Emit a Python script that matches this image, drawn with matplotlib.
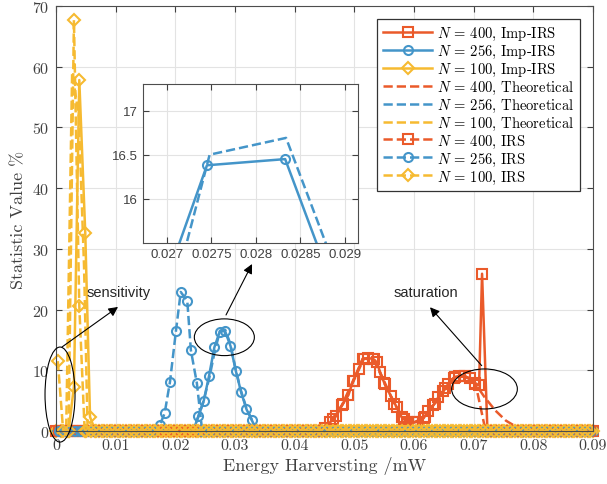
import numpy as np
import matplotlib
matplotlib.use("Agg")
import matplotlib.pyplot as plt
from matplotlib.patches import Ellipse

plt.rcParams['font.family'] = 'cmr10'
plt.rcParams['mathtext.fontset'] = 'cm'
plt.rcParams['axes.formatter.use_mathtext'] = True

# colours (MATLAB-like)
c_org = '#EA5A2A'
c_blu = '#4495C9'
c_yel = '#F6BA31'

# histogram bin centres where the curves sit at zero
bins_a = np.linspace(0, 0.09, 101)
bins_b = bins_a[:-1] + 0.00045

# ---- N = 400 ----
x400_imp = [0.0441, 0.0450, 0.0459, 0.0470, 0.0479, 0.0490, 0.0498, 0.0507, 0.0514, 0.0523,
            0.0531, 0.0538, 0.0543, 0.0551, 0.0561, 0.0571, 0.0579, 0.0588, 0.0599, 0.0607,
            0.0616, 0.0624, 0.0632, 0.0641, 0.0649, 0.0657, 0.0667, 0.0676, 0.0685, 0.0694,
            0.0702, 0.0709, 0.0714, 0.0723]
y400_imp = [0, 0.5, 1.4, 2.5, 4.2, 5.9, 8.3, 10.2, 11.9, 12.0,
            11.9, 11.3, 9.7, 7.7, 5.8, 3.9, 2.3, 1.5, 1.4, 1.5,
            2.1, 3.3, 4.2, 5.6, 6.6, 7.7, 8.8, 9.1, 9.0, 8.7,
            7.9, 7.5, 25.9, 0]
x400_th = [0.0441, 0.0459, 0.0479, 0.0498, 0.0514, 0.0531, 0.0543, 0.0561, 0.0579, 0.0599,
           0.0616, 0.0632, 0.0649, 0.0667, 0.0685, 0.0702, 0.0718, 0.0736, 0.0754, 0.0766, 0.0778]
y400_th = [0, 1.4, 4.2, 8.3, 11.9, 11.9, 9.7, 5.8, 2.3, 1.4,
           2.1, 4.2, 6.6, 8.8, 9.0, 7.9, 5.6, 3.4, 1.7, 1.0, 0]
x400_irs = [0.0446, 0.0464, 0.0481, 0.0499, 0.0516, 0.0533, 0.0550, 0.0567, 0.0584, 0.0601,
            0.0618, 0.0635, 0.0652, 0.0669, 0.0686, 0.0703, 0.0720]
y400_irs = [0, 1.9, 4.5, 8.3, 11.9, 11.8, 7.9, 4.5, 1.9, 1.4,
            2.3, 4.5, 7.0, 8.9, 9.0, 7.8, 0]

# ---- N = 256 ----
x256_imp = [0.02299, 0.02387, 0.02476, 0.02565, 0.02654, 0.02745, 0.02833, 0.02924,
            0.03013, 0.03102, 0.03191, 0.03280, 0.03369]
y256_imp = [0, 2.5, 5.0, 9.1, 13.8, 16.38, 16.45, 14.0, 9.9, 6.4, 3.6, 1.8, 0]
x256_th = [0.0229, 0.0238, 0.0247, 0.0257, 0.0266, 0.02748, 0.02834, 0.0292,
           0.0301, 0.0310, 0.0319, 0.0328, 0.0337]
y256_th = [0, 2.2, 4.8, 8.8, 13.1, 16.5, 16.69, 14.4, 10.2, 6.6, 3.8, 1.9, 0]
x256_irs = [0.0165, 0.0174, 0.0182, 0.0191, 0.0201, 0.0209, 0.0220, 0.0226, 0.0236, 0.0245]
y256_irs = [0, 1.0, 2.9, 8.1, 16.5, 22.9, 21.4, 13.3, 7.9, 0]

# ---- N = 100 ----
x100_imp = [0.0021, 0.0030, 0.0039, 0.0049, 0.0057, 0.0066]
y100_imp = [0, 7.3, 57.8, 32.6, 2.3, 0]
x100_th = [0.0017, 0.0027, 0.0038, 0.0047, 0.0053]
y100_th = [0, 59.0, 52.0, 27.0, 0]
x100_irs = [0.0003, 0.0012, 0.0021, 0.0030, 0.0039, 0.0048]
y100_irs = [11.5, 0, 0, 67.7, 20.6, 0]

x_ticks = [0, 0.01, 0.02, 0.03, 0.04, 0.05, 0.06, 0.07, 0.08, 0.09]
x_ticklabels = ['0', '0.01', '0.02', '0.03', '0.04', '0.05', '0.06', '0.07', '0.08', '0.09']
y_ticks = [0, 10, 20, 30, 40, 50, 60, 70]
in_xticks = [0.027, 0.0275, 0.028, 0.0285, 0.029]
in_xticklabels = ['0.027', '0.0275', '0.028', '0.0285', '0.029']
in_yticks = [16, 16.5, 17]
in_yticklabels = ['16', '16.5', '17']


def with_zeros(xs, ys, grid):
    """pad a curve with the zero-count bins on both sides"""
    xs = np.asarray(xs, float)
    ys = np.asarray(ys, float)
    left = grid[grid < xs[0]]
    right = grid[grid > xs[-1]]
    return (np.concatenate([left, xs, right]),
            np.concatenate([np.zeros(len(left)), ys, np.zeros(len(right))]))


series = [
    (x400_imp, y400_imp, bins_a, c_org, '-', 's', r'$N$ = 400, Imp-IRS'),
    (x256_imp, y256_imp, bins_a, c_blu, '-', 'o', r'$N$ = 256, Imp-IRS'),
    (x100_imp, y100_imp, bins_a, c_yel, '-', 'D', r'$N$ = 100, Imp-IRS'),
    (x400_th, y400_th, bins_a, c_org, '--', None, r'$N$ = 400, Theoretical'),
    (x256_th, y256_th, bins_a, c_blu, '--', None, r'$N$ = 256, Theoretical'),
    (x100_th, y100_th, bins_a, c_yel, '--', None, r'$N$ = 100, Theoretical'),
    (x400_irs, y400_irs, bins_b, c_org, '--', 's', r'$N$ = 400, IRS'),
    (x256_irs, y256_irs, bins_b, c_blu, '--', 'o', r'$N$ = 256, IRS'),
    (x100_irs, y100_irs, bins_b, c_yel, '--', 'D', r'$N$ = 100, IRS'),
]

fig = plt.figure(figsize=(6.07, 4.85), dpi=100)
ax = fig.add_axes([0.0923, 0.1093, 0.8847, 0.8763])

for xs, ys, grid, col, ls, mk, lab in series:
    xx, yy = with_zeros(xs, ys, grid)
    ms = 6 if mk == 'D' else 6.5
    ax.plot(xx, yy, color=col, ls=ls, lw=1.8, marker=mk, ms=ms, mfc='none',
            mew=1.5, label=lab, clip_on=False)

ax.set_xlim(0, 0.09)
ax.set_ylim(0, 70)
ax.set_xticks(x_ticks)
ax.set_xticklabels(x_ticklabels)
ax.set_yticks(y_ticks)
ax.tick_params(direction='in', top=True, right=True, labelsize=11.5,
               colors='#404040', length=4, width=0.8, pad=5)
ax.grid(True, color='#e3e3e3', lw=0.8)
ax.set_axisbelow(True)
for sp in ax.spines.values():
    sp.set_color('#4d4d4d')
    sp.set_linewidth(0.8)
ax.set_xlabel('Energy Harversting /mW', fontsize=13, color='#404040', labelpad=3)
ax.set_ylabel('Statistic Value %', fontsize=13, color='#404040', labelpad=4)

leg = ax.legend(loc='upper right', fontsize=10.5, handlelength=3.4, labelspacing=0.06,
                borderaxespad=0.9, fancybox=False, framealpha=1, edgecolor='#333333',
                handletextpad=0.3, borderpad=0.4)
leg.get_frame().set_linewidth(0.9)

# annotations
sans = ['Liberation Sans', 'DejaVu Sans']
ell_kw = dict(fill=False, ec='black', lw=0.8, zorder=5, clip_on=False)
ax.add_patch(Ellipse((0.00067, 6.0), 0.00503, 15.65, **ell_kw))
ax.add_patch(Ellipse((0.02821, 15.44), 0.01006, 6.05, **ell_kw))
ax.add_patch(Ellipse((0.07181, 6.92), 0.01101, 6.59, **ell_kw))
arrow = dict(arrowstyle='-|>', color='black', lw=0.8, mutation_scale=14, shrinkA=0, shrinkB=0)
ax.annotate('', xy=(0.01039, 20.43), xytext=(0.00101, 13.84), arrowprops=arrow, zorder=6)
ax.annotate('', xy=(0.03285, 27.5), xytext=(0.02849, 19.11), arrowprops=arrow, zorder=6)
ax.annotate('', xy=(0.06268, 20.38), xytext=(0.07134, 10.76), arrowprops=arrow, zorder=6)
ax.text(0.0052, 22.9, 'sensitivity', family=sans, fontsize=10.5, color='#262626', va='center')
ax.text(0.05665, 22.85, 'saturation', family=sans, fontsize=10.5, color='#262626', va='center')

# zoomed inset
axin = fig.add_axes([0.2356, 0.4969, 0.3542, 0.3278])
axin.plot(x256_th, y256_th, color=c_blu, ls='--', lw=1.8)
axin.plot(x256_imp, y256_imp, color=c_blu, ls='-', lw=1.8, marker='o', ms=6.5, mfc='none', mew=1.5)
axin.set_xlim(0.02673, 0.02915)
axin.set_ylim(15.5, 17.3)
axin.set_xticks(in_xticks)
axin.set_xticklabels(in_xticklabels)
axin.set_yticks(in_yticks)
axin.set_yticklabels(in_yticklabels)
axin.tick_params(direction='in', top=True, right=True, labelsize=9.5,
                 colors='#404040', length=4, width=0.8)
for lab in axin.get_xticklabels() + axin.get_yticklabels():
    lab.set_family(sans)
axin.grid(True, color='#e3e3e3', lw=0.8)
axin.set_axisbelow(True)
for sp in axin.spines.values():
    sp.set_color('#4d4d4d')
    sp.set_linewidth(0.8)

fig.savefig('out.png', dpi=100)
